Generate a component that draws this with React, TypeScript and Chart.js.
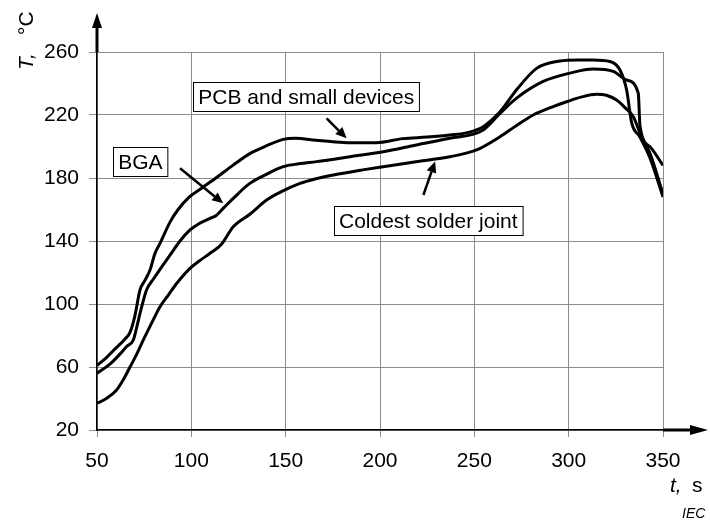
import React, { useEffect, useRef } from "react";
import { Chart, registerables } from "chart.js";
Chart.register(...registerables);

const FONT = '"Liberation Sans", Arial, Helvetica, sans-serif';

// Axis ranges / ticks
const xRange = [50, 350];
const xStep = 50;
const yRange = [20, 260];
const yStep = 40;

// PCB and small devices
const pcbT = [50, 55, 60, 65, 67.5, 70, 72.8, 75.4, 78.1, 80.7, 83.4, 88.7, 93, 99, 106, 113, 122, 131, 140, 148.7, 155, 166, 175, 184, 198, 212, 225, 237, 247, 254.7, 263.6, 272.4, 283, 295.4, 305, 313, 321.9, 327.2, 330.7, 333.4, 337.8, 343, 350];
const pcbTemp = [61, 66, 72, 78, 82, 92, 109, 115, 121.6, 132, 138.5, 152, 160, 168, 174, 180, 188, 195.5, 200.5, 204.5, 205.2, 204, 203, 202.4, 202.4, 205, 206, 207.3, 209, 212.6, 222, 236, 249.6, 254.3, 255, 255, 254, 248.6, 236, 215, 206, 193, 168];

// BGA
const bgaT = [50, 57, 62, 65.7, 69.2, 71, 72.8, 76.3, 80, 83.4, 88.7, 94, 99.3, 104, 109.9, 113, 116.9, 123, 131, 140, 148.7, 157, 166.3, 184, 201.7, 219.3, 237, 254.7, 263.6, 272.4, 286.5, 300.7, 313, 323.6, 330.7, 336.9, 337.8, 343, 350];
const bgaTemp = [56, 62, 68, 73, 77, 85, 94, 109, 116, 122, 131, 140, 147, 151, 154.4, 156, 160.7, 168, 176.6, 182.5, 187.2, 189, 190.4, 193.5, 196.7, 201, 205.2, 210.5, 221, 230.7, 241.3, 246.6, 249.2, 247.7, 242.2, 233.8, 213, 200, 188];

// Coldest solder joint
const coldT = [50, 55, 60.4, 64, 67.5, 71, 74.5, 79, 83.4, 88, 92.2, 99.3, 105, 109.9, 116, 122.2, 131, 139.9, 148, 157.6, 166, 175.3, 190, 201.7, 220, 237, 251.2, 263.6, 272, 281.2, 290, 298.9, 307, 314.8, 320, 325.4, 330, 334.2, 338, 343, 350];
const coldTemp = [37, 40, 45.4, 52, 60, 68, 77, 88, 98.3, 106, 113, 122.6, 128, 132.2, 138, 149, 157, 166, 171.5, 176.6, 179.5, 181.9, 185, 187.2, 190.5, 193.5, 197.8, 206.2, 213, 220, 224.5, 228.4, 231.5, 233.1, 232.5, 229.5, 224.5, 219, 208, 196, 170];

// Annotation labels (data coordinates)
const labelTexts = ["PCB and small devices", "BGA", "Coldest solder joint"];
const labelCenters = [[160.9, 231.6], [73.0, 190.4], [225.6, 152.8]];
const arrowFrom = [[171.7, 217.9], [94.0, 186.2], [223.0, 169.2]];
const arrowTo = [[182.3, 205.2], [116.9, 163.9], [229.2, 190.5]];

const toXY = (t: number[], v: number[]) => t.map((x, i) => ({ x, y: v[i] }));

function drawArrow(ctx: CanvasRenderingContext2D, x1: number, y1: number, x2: number, y2: number, w: number, headLen: number, headHalf: number) {
  const ang = Math.atan2(y2 - y1, x2 - x1);
  const bx = x2 - headLen * Math.cos(ang);
  const by = y2 - headLen * Math.sin(ang);
  ctx.save();
  ctx.strokeStyle = "#000";
  ctx.fillStyle = "#000";
  ctx.lineWidth = w;
  ctx.lineCap = "butt";
  ctx.beginPath();
  ctx.moveTo(x1, y1);
  ctx.lineTo(bx, by);
  ctx.stroke();
  ctx.beginPath();
  ctx.moveTo(x2, y2);
  ctx.lineTo(bx + headHalf * Math.sin(ang), by - headHalf * Math.cos(ang));
  ctx.lineTo(bx - headHalf * Math.sin(ang), by + headHalf * Math.cos(ang));
  ctx.closePath();
  ctx.fill();
  ctx.restore();
}

const decorPlugin = {
  id: "decor",
  afterDatasetsDraw(chart: any) {
    const ctx = chart.ctx as CanvasRenderingContext2D;
    const xs = chart.scales.x;
    const ys = chart.scales.y;
    ctx.save();
    ctx.font = `21px ${FONT}`;
    labelTexts.forEach((txt, i) => {
      const cx = xs.getPixelForValue(labelCenters[i][0]);
      const cy = ys.getPixelForValue(labelCenters[i][1]);
      const w = ctx.measureText(txt).width + 10;
      const h = 29;
      const left = Math.round(cx - w / 2) + 0.5;
      const top = Math.round(cy - h / 2) + 0.5;
      ctx.fillStyle = "#fff";
      ctx.fillRect(left, top, w, h);
      ctx.strokeStyle = "#000";
      ctx.lineWidth = 1;
      ctx.strokeRect(left, top, w, h);
      ctx.fillStyle = "#000";
      ctx.textAlign = "center";
      ctx.textBaseline = "alphabetic";
      ctx.fillText(txt, cx, cy + 7.5);
      drawArrow(
        ctx,
        xs.getPixelForValue(arrowFrom[i][0]),
        ys.getPixelForValue(arrowFrom[i][1]),
        xs.getPixelForValue(arrowTo[i][0]),
        ys.getPixelForValue(arrowTo[i][1]),
        2.5,
        11,
        5
      );
    });
    ctx.restore();
  },
  afterDraw(chart: any) {
    const ctx = chart.ctx as CanvasRenderingContext2D;
    const a = chart.chartArea;
    ctx.save();
    // Y axis arrow
    ctx.fillStyle = "#000";
    ctx.fillRect(a.left - 1.5, a.top - 26, 3, 26);
    ctx.beginPath();
    ctx.moveTo(a.left, a.top - 39);
    ctx.lineTo(a.left - 5, a.top - 24);
    ctx.lineTo(a.left + 5, a.top - 24);
    ctx.closePath();
    ctx.fill();
    // X axis arrow
    ctx.fillRect(a.right, a.bottom - 1.5, 29, 3);
    ctx.beginPath();
    ctx.moveTo(a.right + 45, a.bottom);
    ctx.lineTo(a.right + 27, a.bottom - 5);
    ctx.lineTo(a.right + 27, a.bottom + 5);
    ctx.closePath();
    ctx.fill();

    // Y axis title
    ctx.save();
    ctx.translate(33, 70);
    ctx.rotate(-Math.PI / 2);
    ctx.textAlign = "left";
    ctx.textBaseline = "alphabetic";
    ctx.font = `italic 21px ${FONT}`;
    ctx.fillText("T,", 0, 0);
    ctx.font = `21px ${FONT}`;
    ctx.fillText("°C", 35, 0);
    ctx.restore();

    // X axis title
    ctx.textAlign = "left";
    ctx.textBaseline = "alphabetic";
    ctx.font = `italic 21px ${FONT}`;
    ctx.fillText("t,", 670, 492);
    ctx.font = `21px ${FONT}`;
    ctx.fillText("s", 692, 492);

    // IEC
    ctx.font = `italic 14px ${FONT}`;
    ctx.fillText("IEC", 682, 518);
    ctx.restore();
  },
};

export default function App() {
  const ref = useRef<HTMLCanvasElement | null>(null);
  useEffect(() => {
    if (!ref.current) return;
    const lineDs = (data: any[]) => ({
      data,
      borderColor: "#000",
      borderWidth: 3,
      pointRadius: 0,
      fill: false,
      cubicInterpolationMode: "monotone" as const,
    });
    const chart = new Chart(ref.current, {
      type: "line",
      data: {
        datasets: [
          { label: "PCB and small devices", ...lineDs(toXY(pcbT, pcbTemp)) },
          { label: "BGA", ...lineDs(toXY(bgaT, bgaTemp)) },
          { label: "Coldest solder joint", ...lineDs(toXY(coldT, coldTemp)) },
        ],
      },
      options: {
        animation: false,
        responsive: false,
        maintainAspectRatio: false,
        layout: { padding: { top: 52, right: 47, left: 0, bottom: 0 } },
        plugins: { legend: { display: false }, tooltip: { enabled: false } },
        scales: {
          x: {
            type: "linear",
            min: xRange[0],
            max: xRange[1],
            afterFit: (s: any) => {
              s.height = 97;
            },
            ticks: {
              stepSize: xStep,
              color: "#000",
              font: { family: FONT, size: 21 },
              padding: 12,
              maxRotation: 0,
            },
            grid: { color: "#8c8c8c", lineWidth: 1, tickLength: 7 },
            border: { display: true, color: "#000", width: 1.5 },
          },
          y: {
            type: "linear",
            min: yRange[0],
            max: yRange[1],
            afterFit: (s: any) => {
              s.width = 97;
            },
            ticks: {
              stepSize: yStep,
              color: "#000",
              font: { family: FONT, size: 21 },
              padding: 10,
            },
            grid: { color: "#8c8c8c", lineWidth: 1, tickLength: 8 },
            border: { display: true, color: "#000", width: 1.5 },
          },
        },
      },
      plugins: [decorPlugin],
    });
    return () => chart.destroy();
  }, []);
  return (
    <div style={{ position: "absolute", left: 0, top: 0, width: 710, height: 527, background: "#fff" }}>
      <canvas ref={ref} width={710} height={527} style={{ display: "block" }} />
    </div>
  );
}
